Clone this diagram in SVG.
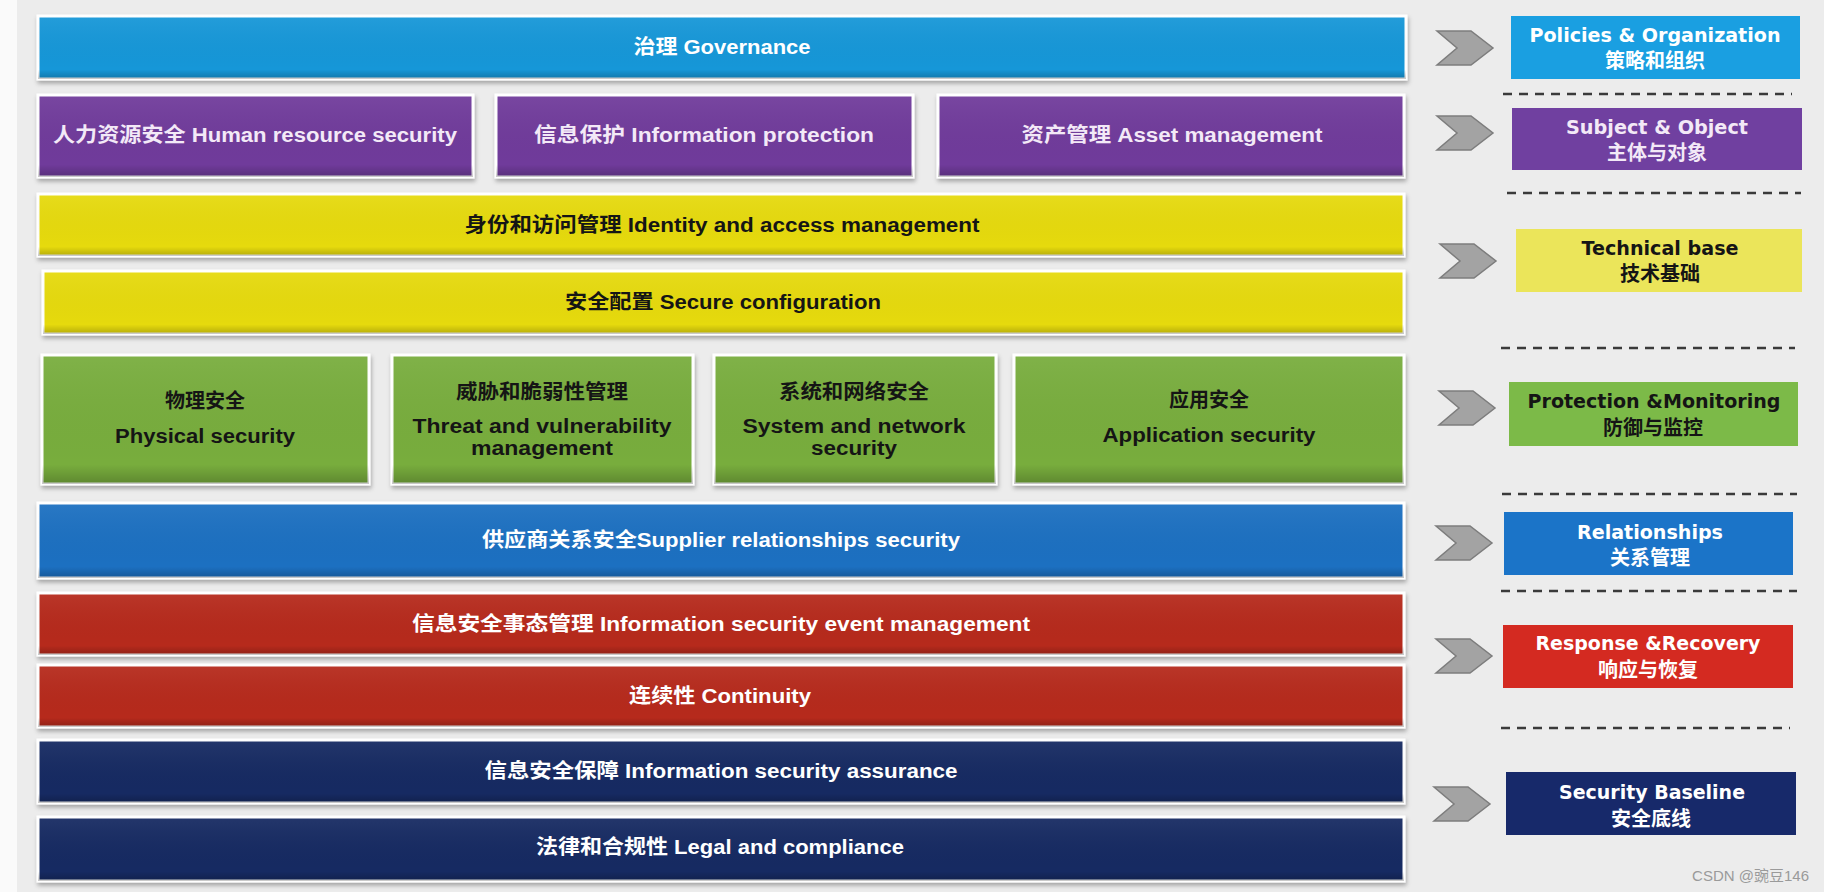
<svg xmlns="http://www.w3.org/2000/svg" width="1824" height="892" viewBox="0 0 1824 892">
<style>
.bar{stroke:#ffffff;stroke-width:3;filter:url(#sh)}
.rb{stroke:none}
.t{font-family:'Liberation Sans','Noto Sans CJK SC',sans-serif;font-weight:bold;font-size:20px;text-anchor:middle}
.r{font-family:'DejaVu Sans','Noto Sans CJK SC',sans-serif;font-weight:bold;font-size:19px;text-anchor:middle}
.rc{font-family:'Noto Sans CJK SC',sans-serif;font-weight:bold;font-size:20px;text-anchor:middle}
.w{fill:#ffffff}
.lav{fill:#f3e9f7}
.k{fill:#151515}
.dash{stroke:#3a3a3a;stroke-width:2.5;stroke-dasharray:9 7;fill:none}
.chev{fill:#a3a3a3;stroke:#7d7d7d;stroke-width:1.5}
</style>
<defs>
<filter id="sh" x="-5%" y="-20%" width="110%" height="150%">
<feDropShadow dx="1" dy="3" stdDeviation="2" flood-color="#000" flood-opacity="0.3"/>
</filter>
<linearGradient id="shade" x1="0" y1="0" x2="0" y2="1">
<stop offset="0" stop-color="#fff" stop-opacity="0.06"/>
<stop offset="0.85" stop-color="#000" stop-opacity="0"/>
<stop offset="1" stop-color="#000" stop-opacity="0.22"/>
</linearGradient>
<path id="chevron" d="M0,-17 L34,-17 L56,0 L34,17 L0,17 L20,0 Z"/>
</defs>
<rect x="0" y="0" width="1824" height="892" fill="#fafafa"/>
<rect x="17" y="0" width="1807" height="892" fill="#ececec"/>

<g id="governance"><rect class="bar" x="38" y="16" width="1368" height="63" fill="#1697d8"/><rect class="rb" x="38" y="16" width="1368" height="63" fill="url(#shade)"/><text class="t w" x="722" y="54" textLength="177" lengthAdjust="spacingAndGlyphs">治理 Governance</text></g>

<g id="human-resource"><rect class="bar" x="38" y="95" width="435" height="82" fill="#6f3b9b"/><rect class="rb" x="38" y="95" width="435" height="82" fill="url(#shade)"/><text class="t lav" x="255" y="142" textLength="404" lengthAdjust="spacingAndGlyphs">人力资源安全 Human resource security</text></g>
<g id="info-protection"><rect class="bar" x="496" y="95" width="417" height="82" fill="#6f3b9b"/><rect class="rb" x="496" y="95" width="417" height="82" fill="url(#shade)"/><text class="t lav" x="704" y="142" textLength="340" lengthAdjust="spacingAndGlyphs">信息保护 Information protection</text></g>
<g id="asset-management"><rect class="bar" x="938" y="95" width="466" height="82" fill="#6f3b9b"/><rect class="rb" x="938" y="95" width="466" height="82" fill="url(#shade)"/><text class="t lav" x="1172" y="142" textLength="301" lengthAdjust="spacingAndGlyphs">资产管理 Asset management</text></g>

<g id="identity"><rect class="bar" x="38" y="194" width="1366" height="62" fill="#e6da08"/><rect class="rb" x="38" y="194" width="1366" height="62" fill="url(#shade)"/><text class="t k" x="722" y="232" textLength="515" lengthAdjust="spacingAndGlyphs">身份和访问管理 Identity and access management</text></g>
<g id="secure-config"><rect class="bar" x="43" y="271" width="1361" height="63" fill="#e6da08"/><rect class="rb" x="43" y="271" width="1361" height="63" fill="url(#shade)"/><text class="t k" x="723" y="309" textLength="316" lengthAdjust="spacingAndGlyphs">安全配置 Secure configuration</text></g>

<g id="physical"><rect class="bar" x="42" y="355" width="327" height="129" fill="#78ad3e"/><rect class="rb" x="42" y="355" width="327" height="129" fill="url(#shade)"/><text class="t k" x="205" y="408">物理安全</text><text class="t k" x="205" y="443" textLength="180" lengthAdjust="spacingAndGlyphs">Physical security</text></g>
<g id="threat"><rect class="bar" x="392" y="355" width="301" height="129" fill="#78ad3e"/><rect class="rb" x="392" y="355" width="301" height="129" fill="url(#shade)"/><text class="t k" x="542" y="399" textLength="172" lengthAdjust="spacingAndGlyphs">威胁和脆弱性管理</text><text class="t k" x="542" y="433" textLength="259" lengthAdjust="spacingAndGlyphs">Threat and vulnerability</text><text class="t k" x="542" y="455" textLength="142" lengthAdjust="spacingAndGlyphs">management</text></g>
<g id="system-network"><rect class="bar" x="714" y="355" width="282" height="129" fill="#78ad3e"/><rect class="rb" x="714" y="355" width="282" height="129" fill="url(#shade)"/><text class="t k" x="854" y="399" textLength="150" lengthAdjust="spacingAndGlyphs">系统和网络安全</text><text class="t k" x="854" y="433" textLength="223" lengthAdjust="spacingAndGlyphs">System and network</text><text class="t k" x="854" y="455" textLength="86" lengthAdjust="spacingAndGlyphs">security</text></g>
<g id="application"><rect class="bar" x="1014" y="355" width="390" height="129" fill="#78ad3e"/><rect class="rb" x="1014" y="355" width="390" height="129" fill="url(#shade)"/><text class="t k" x="1209" y="407">应用安全</text><text class="t k" x="1209" y="442" textLength="213" lengthAdjust="spacingAndGlyphs">Application security</text></g>

<g id="supplier"><rect class="bar" x="38" y="503" width="1366" height="75" fill="#1a6fc1"/><rect class="rb" x="38" y="503" width="1366" height="75" fill="url(#shade)"/><text class="t w" x="721" y="547" textLength="478" lengthAdjust="spacingAndGlyphs">供应商关系安全Supplier relationships security</text></g>

<g id="event-management"><rect class="bar" x="38" y="593" width="1366" height="62" fill="#b62a1a"/><rect class="rb" x="38" y="593" width="1366" height="62" fill="url(#shade)"/><text class="t w" x="721" y="631" textLength="618" lengthAdjust="spacingAndGlyphs">信息安全事态管理 Information security event management</text></g>
<g id="continuity"><rect class="bar" x="38" y="665" width="1366" height="62" fill="#b62a1a"/><rect class="rb" x="38" y="665" width="1366" height="62" fill="url(#shade)"/><text class="t w" x="720" y="703" textLength="182" lengthAdjust="spacingAndGlyphs">连续性 Continuity</text></g>

<g id="assurance"><rect class="bar" x="38" y="740" width="1366" height="63" fill="#162a62"/><rect class="rb" x="38" y="740" width="1366" height="63" fill="url(#shade)"/><text class="t w" x="721" y="778" textLength="473" lengthAdjust="spacingAndGlyphs">信息安全保障 Information security assurance</text></g>
<g id="legal"><rect class="bar" x="38" y="817" width="1366" height="64" fill="#162a62"/><rect class="rb" x="38" y="817" width="1366" height="64" fill="url(#shade)"/><text class="t w" x="720" y="854" textLength="368" lengthAdjust="spacingAndGlyphs">法律和合规性 Legal and compliance</text></g>

<g id="connectors">
<use href="#chevron" class="chev" x="1437" y="48"/>
<use href="#chevron" class="chev" x="1437" y="133"/>
<use href="#chevron" class="chev" x="1440" y="261"/>
<use href="#chevron" class="chev" x="1439" y="408"/>
<use href="#chevron" class="chev" x="1436" y="543"/>
<use href="#chevron" class="chev" x="1436" y="656"/>
<use href="#chevron" class="chev" x="1434" y="804"/>
<line class="dash" x1="1503" y1="94" x2="1792" y2="94"/>
<line class="dash" x1="1507" y1="193" x2="1801" y2="193"/>
<line class="dash" x1="1501" y1="348" x2="1795" y2="348"/>
<line class="dash" x1="1502" y1="494" x2="1797" y2="494"/>
<line class="dash" x1="1501" y1="591" x2="1797" y2="591"/>
<line class="dash" x1="1501" y1="728" x2="1790" y2="728"/>
</g>

<g id="policies"><rect x="1511" y="16" width="289" height="63" fill="#1a9fe1"/><text class="r w" x="1655" y="42" textLength="251" lengthAdjust="spacingAndGlyphs">Policies &amp; Organization</text><text class="rc w" x="1655" y="68">策略和组织</text></g>
<g id="subject-object"><rect x="1512" y="108" width="290" height="62" fill="#7040a0"/><text class="r lav" x="1657" y="134" textLength="182" lengthAdjust="spacingAndGlyphs">Subject &amp; Object</text><text class="rc lav" x="1657" y="160">主体与对象</text></g>
<g id="technical-base"><rect x="1516" y="229" width="286" height="63" fill="#ebe55a"/><text class="r k" x="1660" y="255" textLength="157" lengthAdjust="spacingAndGlyphs">Technical base</text><text class="rc k" x="1660" y="281">技术基础</text></g>
<g id="protection-monitoring"><rect x="1509" y="382" width="289" height="64" fill="#7cba48"/><text class="r k" x="1654" y="408" textLength="253" lengthAdjust="spacingAndGlyphs">Protection &amp;Monitoring</text><text class="rc k" x="1653" y="435">防御与监控</text></g>
<g id="relationships"><rect x="1504" y="512" width="289" height="63" fill="#1b74c8"/><text class="r w" x="1650" y="539" textLength="146" lengthAdjust="spacingAndGlyphs">Relationships</text><text class="rc w" x="1650" y="565">关系管理</text></g>
<g id="response-recovery"><rect x="1503" y="625" width="290" height="63" fill="#d42a21"/><text class="r w" x="1648" y="650" textLength="225" lengthAdjust="spacingAndGlyphs">Response &amp;Recovery</text><text class="rc w" x="1648" y="677">响应与恢复</text></g>
<g id="security-baseline"><rect x="1506" y="772" width="290" height="63" fill="#17296a"/><text class="r w" x="1652" y="799" textLength="186" lengthAdjust="spacingAndGlyphs">Security Baseline</text><text class="rc w" x="1651" y="826">安全底线</text></g>

<text x="1809" y="881" font-family="'Liberation Sans','Noto Sans CJK SC',sans-serif" font-size="15" fill="#9a9a9a" text-anchor="end">CSDN @豌豆146</text>
</svg>
